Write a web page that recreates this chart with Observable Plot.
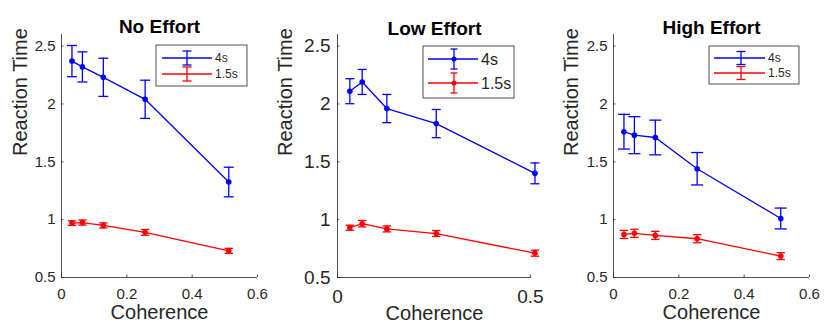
<!DOCTYPE html>
<html><head><meta charset="utf-8">
<script src="https://cdn.jsdelivr.net/npm/d3@7"></script>
<script src="https://cdn.jsdelivr.net/npm/@observablehq/plot@0.6"></script>
<style>
body{margin:0;background:#fff;}
#chart{position:relative;width:824px;height:327px;overflow:hidden;background:#fff;font-family:"Liberation Sans",Arial,sans-serif;}
#chart svg{position:absolute;top:0;}
</style></head><body><div id="chart"></div>
<script>
// ---- data ----
const coherence = [0.032, 0.064, 0.128, 0.256, 0.512];
const seriesNames = ["4s", "1.5s"];
const seriesColors = ["#0000ff", "#ff0000"];
const panelTitles = ["No Effort", "Low Effort", "High Effort"];
const xLabel = "Coherence";
const yLabel = "Reaction Time";

const noEffort4s = [2.37, 2.32, 2.23, 2.04, 1.325];
const noEffort4sErr = [0.135, 0.13, 0.165, 0.165, 0.128];
const noEffort15s = [0.97, 0.975, 0.95, 0.89, 0.73];
const noEffort15sErr = [0.02, 0.022, 0.022, 0.025, 0.022];

const lowEffort4s = [2.11, 2.19, 1.96, 1.83, 1.40];
const lowEffort4sErr = [0.108, 0.108, 0.122, 0.122, 0.09];
const lowEffort15s = [0.93, 0.965, 0.92, 0.88, 0.71];
const lowEffort15sErr = [0.022, 0.028, 0.026, 0.026, 0.026];

const highEffort4s = [1.76, 1.73, 1.71, 1.44, 1.01];
const highEffort4sErr = [0.15, 0.16, 0.15, 0.14, 0.09];
const highEffort15s = [0.872, 0.882, 0.864, 0.835, 0.685];
const highEffort15sErr = [0.035, 0.035, 0.035, 0.035, 0.03];

const yTicks = [0.5, 1, 1.5, 2, 2.5];
const xTicksWide = [0, 0.2, 0.4, 0.6];
const xTicksLow = [0, 0.5];

// ---- layout ----
const axisColor = "#262626";
const panels = [
  {title: panelTitles[0], vals: [noEffort4s, noEffort15s], errs: [noEffort4sErr, noEffort15sErr],
   left: 0, width: 275, ml: 61, mr: 18, xDomain: [0, 0.6], xTicks: xTicksWide, tickFont: 15,
   titleDy: -15.5, xlabDy: 41, ylabDx: -41, tickPadX: 11, tickPadY: 6, caps: [5, 4.2],
   legend: {x0: 156, x1: 247, y0: 45, y1: 86, rows: [58, 74], lx0: 162, lx1: 212, lc: 187, tx: 215, font: 12, bh: 7, cap: 4.5, dot: 0}},
  {title: panelTitles[1], vals: [lowEffort4s, lowEffort15s], errs: [lowEffort4sErr, lowEffort15sErr],
   left: 275, width: 275, ml: 62, mr: 19, xDomain: [0, 0.503], xTicks: xTicksLow, tickFont: 19,
   titleDy: -13.5, xlabDy: 42, ylabDx: -52, tickPadX: 12, tickPadY: 7, caps: [4.5, 4.2],
   legend: {x0: 148, x1: 239, y0: 46, y1: 98, rows: [59, 83], lx0: 153, lx1: 203, lc: 179, tx: 206, font: 16, bh: 10, cap: 3.5, dot: 2.5}},
  {title: panelTitles[2], vals: [highEffort4s, highEffort15s], errs: [highEffort4sErr, highEffort15sErr],
   left: 550, width: 274, ml: 63, mr: 15, xDomain: [0, 0.6], xTicks: xTicksWide, tickFont: 15,
   titleDy: -14.5, xlabDy: 41.5, ylabDx: -42, tickPadX: 11, tickPadY: 6, caps: [6, 4.2],
   legend: {x0: 159, x1: 249, y0: 46, y1: 84, rows: [58, 73], lx0: 164, lx1: 215, lc: 191, tx: 218, font: 12, bh: 6.5, cap: 4.5, dot: 0}}
];
const H = 327, MT = 34, MB = 50;
const yDomain = [0.5, 2.6];

const capSymbol = {draw(ctx, size) { const w = Math.sqrt(size / Math.PI); ctx.moveTo(-w, 0); ctx.lineTo(w, 0); }};
const fmt = d => String(d);

const chart = document.getElementById("chart");

panels.forEach(p => {
  const frameW = p.width - p.ml - p.mr;
  const frameH = H - MT - MB;
  const marks = [
    Plot.ruleX([p.xDomain[0]], {stroke: axisColor, strokeWidth: 0.8}),
    Plot.ruleY([yDomain[0]], {stroke: axisColor, strokeWidth: 0.8}),
    Plot.tickX(p.xTicks, {x: d => d, stroke: axisColor, strokeWidth: 0.8, insetTop: frameH - 2.5}),
    Plot.tickY(yTicks, {y: d => d, stroke: axisColor, strokeWidth: 0.8, insetRight: frameW - 2.5}),
    Plot.axisX(p.xTicks, {tickSize: 0, tickPadding: p.tickPadX, tickFormat: fmt, fontSize: p.tickFont, fill: axisColor, label: null}),
    Plot.axisY(yTicks, {tickSize: 0, tickPadding: p.tickPadY, tickFormat: fmt, fontSize: p.tickFont, fill: axisColor, label: null}),
  ];
  seriesNames.forEach((name, s) => {
    const rows = coherence.map((c, i) => ({x: c, y: p.vals[s][i], lo: p.vals[s][i] - p.errs[s][i], hi: p.vals[s][i] + p.errs[s][i]}));
    const col = seriesColors[s];
    marks.push(
      Plot.line(rows, {x: "x", y: "y", stroke: col, strokeWidth: 1.3}),
      Plot.ruleX(rows, {x: "x", y1: "lo", y2: "hi", stroke: col, strokeWidth: 1.3}),
      Plot.dot(rows, {x: "x", y: "hi", symbol: capSymbol, r: p.caps[s], stroke: col, fill: "none", strokeWidth: 1.3}),
      Plot.dot(rows, {x: "x", y: "lo", symbol: capSymbol, r: p.caps[s], stroke: col, fill: "none", strokeWidth: 1.3}),
      Plot.dot(rows, {x: "x", y: "y", r: 2.8, fill: col, stroke: "none"})
    );
  });
  marks.push(
    Plot.text([p.title], {text: d => d, frameAnchor: "top", dy: p.titleDy, fontSize: 19, fontWeight: "bold", fill: "#000"}),
    Plot.text([xLabel], {text: d => d, frameAnchor: "bottom", dy: p.xlabDy, fontSize: 20, fill: axisColor}),
    Plot.text([yLabel], {text: d => d, frameAnchor: "left", dx: p.ylabDx, rotate: -90, fontSize: 20, fill: axisColor})
  );
  const svg = Plot.plot({
    width: p.width, height: H,
    marginLeft: p.ml, marginRight: p.mr, marginTop: MT, marginBottom: MB,
    x: {domain: p.xDomain, axis: null},
    y: {domain: yDomain, axis: null},
    style: {fontFamily: '"Liberation Sans", Arial, sans-serif', background: "transparent", overflow: "visible", color: axisColor},
    marks
  });
  svg.style.left = p.left + "px";
  // legend
  const L = p.legend;
  const g = d3.select(svg).append("g").attr("text-anchor", "start");
  g.append("rect").attr("x", L.x0).attr("y", L.y0).attr("width", L.x1 - L.x0).attr("height", L.y1 - L.y0)
    .attr("fill", "#fff").attr("stroke", axisColor).attr("stroke-width", 0.8);
  seriesNames.forEach((name, s) => {
    const y = L.rows[s], col = seriesColors[s];
    g.append("line").attr("x1", L.lx0).attr("x2", L.lx1).attr("y1", y).attr("y2", y).attr("stroke", col).attr("stroke-width", 1.3);
    g.append("line").attr("x1", L.lc).attr("x2", L.lc).attr("y1", y - L.bh).attr("y2", y + L.bh).attr("stroke", col).attr("stroke-width", 1.3);
    [y - L.bh, y + L.bh].forEach(yy => g.append("line").attr("x1", L.lc - L.cap).attr("x2", L.lc + L.cap).attr("y1", yy).attr("y2", yy).attr("stroke", col).attr("stroke-width", 1.3));
    if (L.dot) g.append("circle").attr("cx", L.lc).attr("cy", y).attr("r", L.dot).attr("fill", col);
    g.append("text").attr("x", L.tx).attr("y", y).attr("dy", "0.35em").attr("text-anchor", "start")
      .style("font-size", L.font + "px").attr("fill", axisColor).text(name);
  });
  chart.appendChild(svg);
});
</script></body></html>
